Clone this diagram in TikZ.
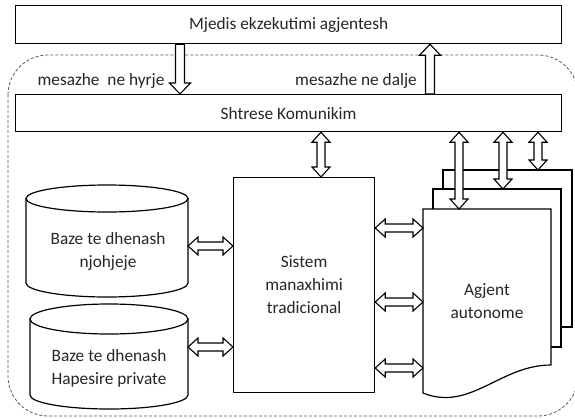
\documentclass[tikz,border=0pt]{standalone}
\usepackage{fontspec}
\setmainfont{Carlito}
\usetikzlibrary{calc}
\definecolor{ink}{HTML}{262626}
\definecolor{framegray}{HTML}{5A5A5A}
\tikzset{
  txt/.style={font=\fontsize{17.3}{23}\selectfont, text=ink, align=center, inner sep=0pt},
  box/.style={txt, draw=black, line width=1.2pt, fill=white, anchor=north west},
  outline/.style={draw=black, line width=1.2pt, fill=white},
  groupframe/.style={draw=framegray, line width=0.8pt, dash pattern=on 3pt off 2pt, rounded corners=40pt},
  % block arrow with a head at the target only
  blockarrow/.style={draw=black, line width=1.1pt, fill=white, line join=miter,
    to path={let \p2=($(\tikztotarget)!11pt!(\tikztostart)$) in
      -- ($(\tikztostart)!4.5pt!90:(\tikztotarget)$)
      -- ($(\p2)!4.5pt!-90:(\tikztostart)$)
      -- ($(\p2)!10.5pt!-90:(\tikztostart)$)
      -- (\tikztotarget)
      -- ($(\p2)!10.5pt!90:(\tikztostart)$)
      -- ($(\p2)!4.5pt!90:(\tikztostart)$)
      -- ($(\tikztostart)!4.5pt!-90:(\tikztotarget)$)
      -- cycle}},
  % block arrow with heads at both ends
  dblarrow/.style={draw=black, line width=1.1pt, fill=white, line join=miter,
    to path={let \p1=($(\tikztostart)!10pt!(\tikztotarget)$),
                 \p2=($(\tikztotarget)!10pt!(\tikztostart)$) in
      -- ($(\p1)!9pt!90:(\tikztotarget)$)
      -- ($(\p1)!4pt!90:(\tikztotarget)$)
      -- ($(\p2)!4pt!-90:(\tikztostart)$)
      -- ($(\p2)!9pt!-90:(\tikztostart)$)
      -- (\tikztotarget)
      -- ($(\p2)!9pt!90:(\tikztostart)$)
      -- ($(\p2)!4pt!90:(\tikztostart)$)
      -- ($(\p1)!4pt!-90:(\tikztotarget)$)
      -- ($(\p1)!9pt!-90:(\tikztotarget)$)
      -- cycle}},
}
\begin{document}
\begin{tikzpicture}[x=1pt,y=-1pt]
\useasboundingbox (0,0) rectangle (575,418);
\fill[white] (0,0) rectangle (575,418);

% dashed agent-platform boundary
\draw[groupframe] (8,55) rectangle (578,416);

% execution environment and communication layer
\node[box, minimum width=546pt, minimum height=38pt] (env) at (15,5) {Mjedis ekzekutimi agjentesh};
\node[box, minimum width=546pt, minimum height=37pt] (comm) at (15,94) {Shtrese Komunikim};

\node[txt] (inlbl) at (101,81) {mesazhe~ ne hyrje};
\node[txt] (outlbl) at (356,81) {mesazhe ne dalje};

% databases
\draw[outline] (26,198.5) -- (26,283) arc[start angle=180, end angle=0, x radius=81, y radius=14] -- (188,198.5) -- cycle;
\draw[outline] (107,198.5) ellipse [x radius=81, y radius=13.5];
\node[txt] (db1) at (108,251) {Baze te dhenash\\njohjeje};

\draw[outline] (30,319) -- (30,395) arc[start angle=180, end angle=0, x radius=79, y radius=14] -- (188,319) -- cycle;
\draw[outline] (109,319) ellipse [x radius=79, y radius=15];
\node[txt] (db2) at (109,368) {Baze te dhenash\\Hapesire private};

% traditional management system
\node[box, minimum width=141pt, minimum height=215pt] (sys) at (233,177) {Sistem\\manaxhimi\\tradicional};

% stacked autonomous agents
\draw[outline] (443,170) rectangle (572,327);
\draw[outline] (433,189) rectangle (561,347);
\draw[outline] (423,209) -- (551,209) -- (551,365)
  .. controls (500,365) and (470,412) .. (423,393) -- cycle;
\node[txt] (agent) at (487,301) {Agjent\\autonome};

% anchor points for connectors
\coordinate (xin)  at (180,0);
\coordinate (xout) at (430,0);
\coordinate (xsys) at (321,0);
\coordinate (p1) at (423,209);
\coordinate (p2) at (433,189);
\coordinate (p3) at (443,170);
\coordinate (xa1) at (459,0);
\coordinate (xa2) at (503,0);
\coordinate (xa3) at (538,0);
\coordinate (db1e) at (188,246);
\coordinate (db2e) at (188,347);
\coordinate (h1) at (423,228);
\coordinate (h2) at (423,302);
\coordinate (h3) at (423,368);

% incoming and outgoing messages
\draw[blockarrow] (env.south -| xin) to (comm.north -| xin);
\draw[blockarrow] (comm.north -| xout) to (env.south -| xout);

% two-way links
\draw[dblarrow] (comm.south -| xsys) to (sys.north -| xsys);
\draw[dblarrow] (comm.south -| xa1) to (xa1 |- p1);
\draw[dblarrow] (comm.south -| xa2) to (xa2 |- p2);
\draw[dblarrow] (comm.south -| xa3) to (xa3 |- p3);
\draw[dblarrow] (db1e) to (db1e -| sys.west);
\draw[dblarrow] (db2e) to (db2e -| sys.west);
\draw[dblarrow] (sys.east |- h1) to (h1);
\draw[dblarrow] (sys.east |- h2) to (h2);
\draw[dblarrow] (sys.east |- h3) to (h3);
\end{tikzpicture}
\end{document}
